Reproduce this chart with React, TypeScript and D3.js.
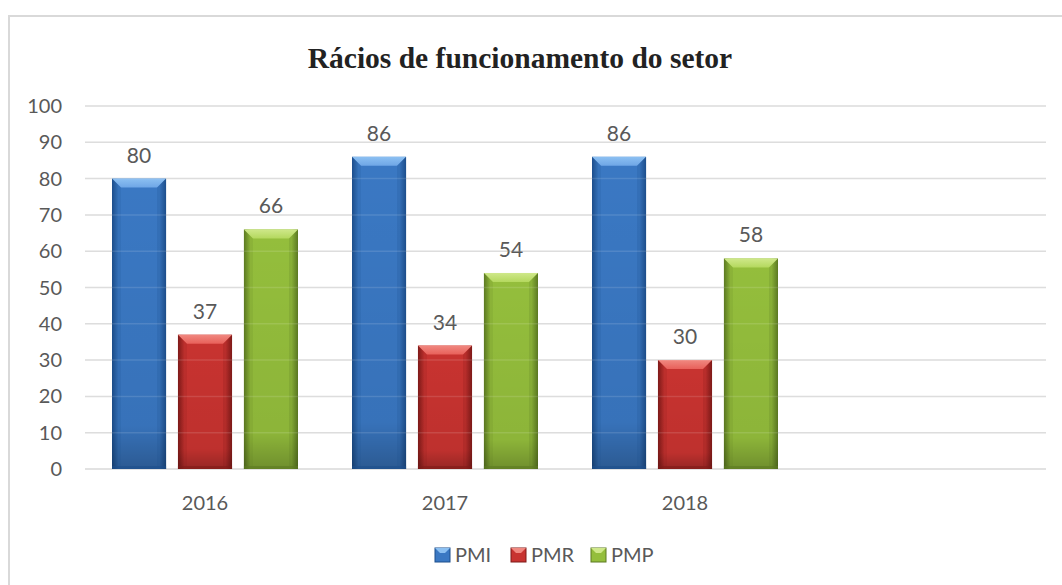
import React, { useEffect, useRef } from 'react';
import * as d3 from 'd3';

const years = ['2016', '2017', '2018', ''];
const seriesNames = ['PMI', 'PMR', 'PMP'];
const pmi = [80, 86, 86];
const pmr = [37, 34, 30];
const pmp = [66, 54, 58];
const yTicks = [0, 10, 20, 30, 40, 50, 60, 70, 80, 90, 100];

const palette = {
  PMI: { main: '#3a78c3', light: '#6ea6e6', dark: '#1d4e8c', top: '#8cc0f2' },
  PMR: { main: '#c83330', light: '#e8605a', dark: '#7f1a18', top: '#f08880' },
  PMP: { main: '#94be3c', light: '#b4d85e', dark: '#5c7a22', top: '#cfe88a' },
};

const labelFont = 'Lato, "Open Sans", "Liberation Sans", sans-serif';

export default function App() {
  const ref = useRef(null);

  useEffect(() => {
    const svg = d3.select(ref.current);
    svg.selectAll('*').remove();

    const values = { PMI: pmi, PMR: pmr, PMP: pmp };

    const x0 = d3.scaleBand().domain(years).range([85, 1045]);
    const x1 = d3.scaleBand().domain(seriesNames).range([27, 213]).paddingInner(0.18).paddingOuter(0);
    const y = d3.scaleLinear().domain([0, 100]).range([469, 106]);

    const defs = svg.append('defs');
    seriesNames.forEach(s => {
      const c = palette[s];
      const g = defs.append('linearGradient').attr('id', 'grad-' + s).attr('x1', 0).attr('x2', 1).attr('y1', 0).attr('y2', 0);
      g.append('stop').attr('offset', '0%').attr('stop-color', c.dark);
      g.append('stop').attr('offset', '12%').attr('stop-color', c.main);
      g.append('stop').attr('offset', '50%').attr('stop-color', c.main);
      g.append('stop').attr('offset', '88%').attr('stop-color', c.main);
      g.append('stop').attr('offset', '100%').attr('stop-color', c.dark);
      const gv = defs.append('linearGradient').attr('id', 'vgrad-' + s).attr('x1', 0).attr('x2', 0).attr('y1', 0).attr('y2', 1);
      gv.append('stop').attr('offset', '0%').attr('stop-color', '#000').attr('stop-opacity', 0);
      gv.append('stop').attr('offset', '85%').attr('stop-color', '#000').attr('stop-opacity', 0.05);
      gv.append('stop').attr('offset', '100%').attr('stop-color', '#000').attr('stop-opacity', 0.25);
      const gt = defs.append('linearGradient').attr('id', 'tgrad-' + s).attr('x1', 0).attr('x2', 0).attr('y1', 0).attr('y2', 1);
      gt.append('stop').attr('offset', '0%').attr('stop-color', c.top);
      gt.append('stop').attr('offset', '100%').attr('stop-color', c.light);
    });

    // frame
    svg.append('rect')
      .attr('x', 9).attr('y', 16).attr('width', 1070).attr('height', 600)
      .attr('fill', '#fff').attr('stroke', '#d9d9d9').attr('stroke-width', 2);

    // title
    svg.append('text')
      .attr('x', 520).attr('y', 68)
      .attr('text-anchor', 'middle')
      .style('font-family', '"Liberation Serif", "Times New Roman", serif')
      .style('font-weight', 'bold')
      .style('font-size', '29.5px')
      .attr('fill', '#222')
      .text('Rácios de funcionamento do setor');

    // gridlines
    svg.append('g').selectAll('line').data(yTicks).join('line')
      .attr('x1', 85).attr('x2', 1046)
      .attr('y1', d => y(d)).attr('y2', d => y(d))
      .attr('stroke', '#d9d9d9').attr('stroke-width', 1.5);

    // y tick labels
    svg.append('g').selectAll('text').data(yTicks).join('text')
      .attr('x', 62).attr('y', d => y(d) + 7)
      .attr('text-anchor', 'end')
      .style('font-family', labelFont)
      .style('font-size', '20px')
      .attr('fill', '#595959')
      .text(d => d);

    // bars
    const bev = 9;
    years.slice(0, 3).forEach((yr, i) => {
      const g = svg.append('g').attr('transform', `translate(${x0(yr)},0)`);
      seriesNames.forEach(s => {
        const v = values[s][i];
        const bx = x1(s), bw = x1.bandwidth();
        const top = y(v), bot = y(0);
        const c = palette[s];
        g.append('rect').attr('x', bx).attr('y', top).attr('width', bw).attr('height', bot - top)
          .attr('fill', `url(#grad-${s})`);
        g.append('rect').attr('x', bx).attr('y', top).attr('width', bw).attr('height', bot - top)
          .attr('fill', `url(#vgrad-${s})`);
        // top bevel
        g.append('path')
          .attr('d', `M${bx},${top}L${bx + bw},${top}L${bx + bw - bev},${top + bev}L${bx + bev},${top + bev}Z`)
          .attr('fill', `url(#tgrad-${s})`);
        // bevel side shading
        g.append('path')
          .attr('d', `M${bx},${top}L${bx + bev},${top + bev}L${bx + bev},${bot - 3}L${bx},${bot}Z`)
          .attr('fill', c.dark).attr('opacity', 0.15);
        g.append('path')
          .attr('d', `M${bx + bw},${top}L${bx + bw - bev},${top + bev}L${bx + bw - bev},${bot - 3}L${bx + bw},${bot}Z`)
          .attr('fill', c.dark).attr('opacity', 0.2);
        g.append('rect').attr('x', bx).attr('y', bot - 3).attr('width', bw).attr('height', 3)
          .attr('fill', c.dark).attr('opacity', 0.6);
        // value label
        g.append('text')
          .attr('x', bx + bw / 2).attr('y', top - 16)
          .attr('text-anchor', 'middle')
          .style('font-family', labelFont)
          .style('font-size', '21px')
          .attr('fill', '#595959')
          .text(v);
      });
    });

    // faint gridlines over bars
    svg.append('g').selectAll('line').data(yTicks.slice(1)).join('line')
      .attr('x1', 85).attr('x2', 1046)
      .attr('y1', d => y(d)).attr('y2', d => y(d))
      .attr('stroke', '#fff').attr('stroke-opacity', 0.12).attr('stroke-width', 1.5);

    // category labels
    svg.append('g').selectAll('text').data(years).join('text')
      .attr('x', d => x0(d) + x0.bandwidth() / 2).attr('y', 510)
      .attr('text-anchor', 'middle')
      .style('font-family', labelFont)
      .style('font-size', '20px')
      .attr('fill', '#595959')
      .text(d => d);

    // legend
    const legendX = [435, 511, 591];
    const leg = svg.append('g');
    seriesNames.forEach((s, i) => {
      const c = palette[s];
      const lx = legendX[i], ly = 548;
      leg.append('rect').attr('x', lx).attr('y', ly).attr('width', 15).attr('height', 14)
        .attr('fill', c.main).attr('stroke', c.dark).attr('stroke-width', 1);
      leg.append('path')
        .attr('d', `M${lx},${ly}L${lx + 15},${ly}L${lx + 10},${ly + 5}L${lx + 5},${ly + 5}Z`)
        .attr('fill', c.top);
      leg.append('text')
        .attr('x', lx + 20).attr('y', ly + 14)
        .style('font-family', labelFont)
        .style('font-size', '20px')
        .attr('fill', '#595959')
        .text(s);
    });
  }, []);

  return (
    <div style={{ position: 'absolute', left: 0, top: 0 }}>
      <svg ref={ref} width={1062} height={585} style={{ display: 'block' }}></svg>
    </div>
  );
}
